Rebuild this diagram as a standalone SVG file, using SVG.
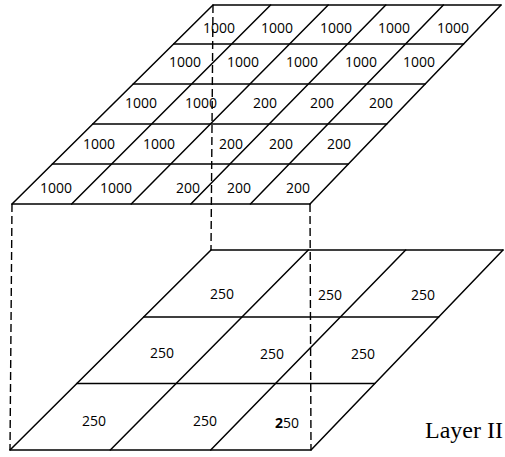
<svg xmlns="http://www.w3.org/2000/svg" width="505" height="457" viewBox="0 0 505 457">
<style>
.g{stroke:#000;stroke-width:1.5;fill:none;stroke-linecap:round}
.d{stroke:#000;stroke-width:1.4;fill:none;stroke-dasharray:8 4}
.t{font-family:"Open Sans","DejaVu Sans",sans-serif;font-size:14px;fill:#000;text-anchor:middle}
.lab{font-family:"Liberation Serif","Times New Roman",serif;font-size:24px;fill:#000}
</style>
<rect width="505" height="457" fill="#fff"/>
<g id="layer1-grid" class="g">
<path d="M213 5H501M173.6 44H463.6M133.2 84H425.2M92.8 124H386.8M52.4 164H348.4M12 204H310"/>
<path d="M213 5L12 204M270.6 5L71.6 204M328.2 5L131.2 204M385.8 5L190.8 204M443.4 5L250.4 204M501 5L310 204"/>
</g>
<g id="layer2-grid" class="g">
<path d="M211 250H503M143.7 317H438.7M76.8 383.5H374.8M10 450H311"/>
<path d="M211 250L10 450M308.3 250L110.3 450M405.7 250L210.7 450M503 250L311 450"/>
</g>
<g id="connectors" class="d">
<path d="M12 204L10 450"/>
<path d="M213 5L211 250"/>
<path d="M310 204L311 450"/>
</g>
<g id="layer1-labels" class="t">
<text x="219" y="33">1000</text><text x="277" y="33">1000</text><text x="336" y="33">1000</text><text x="394" y="33">1000</text><text x="453" y="33">1000</text>
<text x="185" y="67">1000</text><text x="243" y="67">1000</text><text x="302" y="67">1000</text><text x="361" y="67">1000</text><text x="419" y="67">1000</text>
<text x="141" y="108">1000</text><text x="201" y="108">1000</text><text x="265" y="108">200</text><text x="322" y="108">200</text><text x="381" y="108">200</text>
<text x="99" y="149">1000</text><text x="159" y="149">1000</text><text x="231" y="149">200</text><text x="281" y="149">200</text><text x="339" y="149">200</text>
<text x="56" y="193">1000</text><text x="116" y="193">1000</text><text x="188" y="193">200</text><text x="239" y="193">200</text><text x="298" y="193">200</text>
</g>
<g id="layer2-labels" class="t">
<text x="222" y="299">250</text><text x="330" y="300">250</text><text x="423" y="300">250</text>
<text x="162" y="358">250</text><text x="272" y="359">250</text><text x="363" y="359">250</text>
<text x="94" y="426">250</text><text x="205" y="426">250</text><text x="287" y="428"><tspan font-weight="bold">2</tspan>50</text>
</g>
<text id="layer-label" class="lab" x="425" y="438">Layer II</text>
</svg>
